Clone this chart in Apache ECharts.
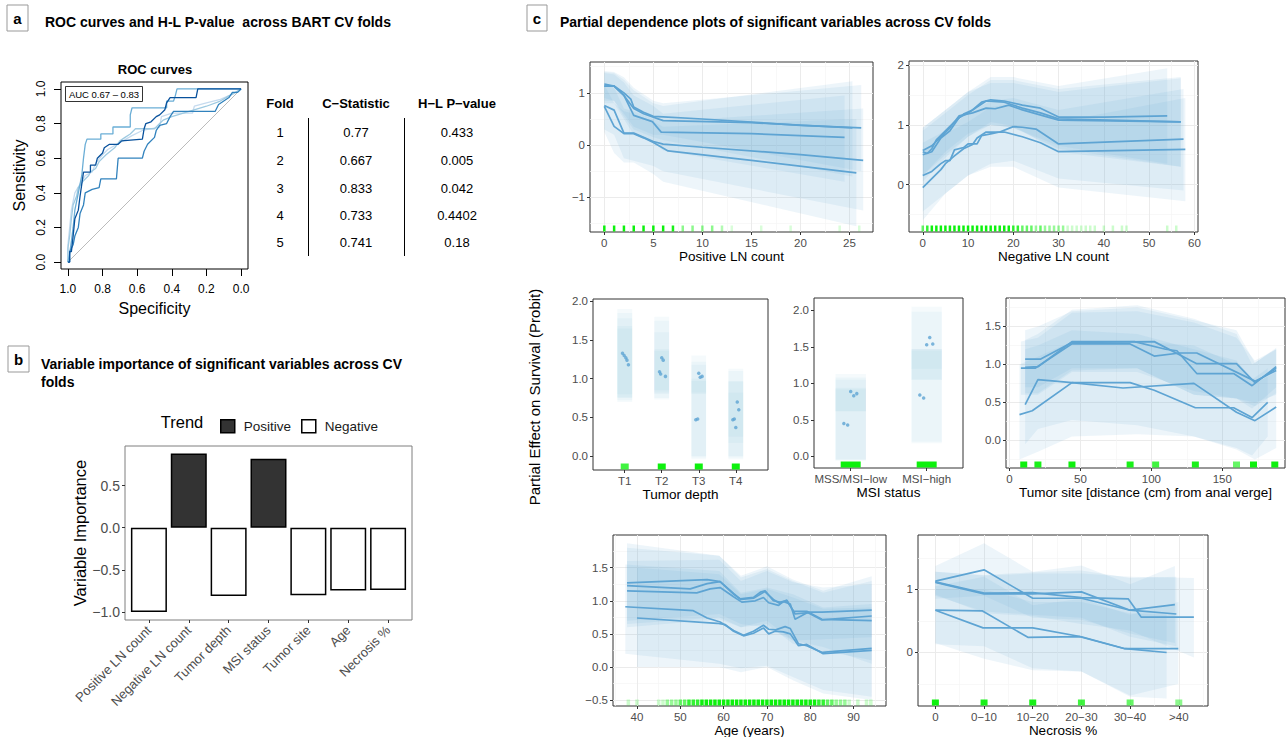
<!DOCTYPE html>
<html>
<head>
<meta charset="utf-8">
<script src="https://cdn.jsdelivr.net/npm/echarts@6/dist/echarts.min.js"></script>
<style>
html, body { margin: 0; background: #fff; }
#main { width: 1287px; height: 737px; }
</style>
</head>
<body>
<div id="main"></div>
<script>
// ---- data ----

// panel a: ROC curves, [specificity, sensitivity]
var roc1 = [[1,0],[0.99,0],[0.99,0.06],[0.98,0.06],[0.97,0.15],[0.96,0.25],[0.94,0.3],[0.93,0.38],[0.92,0.45],[0.91,0.52],[0.87,0.52],[0.87,0.56],[0.84,0.56],[0.83,0.6],[0.8,0.63],[0.79,0.66],[0.76,0.68],[0.71,0.68],[0.69,0.7],[0.57,0.71],[0.56,0.77],[0.55,0.8],[0.52,0.81],[0.49,0.84],[0.47,0.85],[0.44,0.88],[0.43,0.92],[0.41,0.95],[0.26,0.95],[0.25,1],[0,1]];
var roc2 = [[1,0],[0.99,0],[0.99,0.06],[0.97,0.1],[0.96,0.15],[0.94,0.2],[0.93,0.28],[0.91,0.33],[0.9,0.4],[0.86,0.42],[0.82,0.43],[0.81,0.48],[0.72,0.48],[0.71,0.6],[0.57,0.6],[0.56,0.64],[0.54,0.68],[0.5,0.72],[0.49,0.76],[0.47,0.79],[0.43,0.8],[0.41,0.84],[0.39,0.87],[0.15,0.87],[0.13,0.91],[0.07,0.95],[0.05,0.98],[0.02,0.98],[0,1]];
var roc3 = [[1,0],[0.99,0.05],[0.98,0.12],[0.97,0.2],[0.96,0.3],[0.94,0.4],[0.92,0.5],[0.91,0.6],[0.9,0.68],[0.89,0.71],[0.81,0.71],[0.81,0.74],[0.74,0.74],[0.74,0.78],[0.64,0.78],[0.64,0.85],[0.63,0.89],[0.43,0.89],[0.43,0.93],[0.39,0.93],[0.38,0.96],[0.37,1],[0,1]];
var roc4 = [[1,0],[1,0.08],[0.99,0.15],[0.98,0.25],[0.97,0.33],[0.95,0.38],[0.94,0.43],[0.91,0.47],[0.88,0.5],[0.87,0.52],[0.84,0.54],[0.82,0.58],[0.78,0.62],[0.73,0.66],[0.7,0.7],[0.67,0.72],[0.64,0.74],[0.61,0.77],[0.5,0.77],[0.47,0.8],[0.45,0.82],[0.4,0.84],[0.3,0.87],[0.2,0.9],[0.12,0.93],[0.07,0.96],[0.03,0.98],[0,1]];
var roc5 = [[1,0],[1,0.1],[0.99,0.2],[0.98,0.3],[0.97,0.35],[0.96,0.4],[0.93,0.45],[0.9,0.5],[0.86,0.52],[0.84,0.57],[0.8,0.62],[0.77,0.65],[0.7,0.69],[0.63,0.73],[0.57,0.76],[0.47,0.78],[0.46,0.84],[0.4,0.86],[0.28,0.86],[0.27,0.9],[0.2,0.92],[0.12,0.94],[0.05,0.97],[0,1]];
var rocColors = ['#08519c', '#3182bd', '#6baed6', '#9ecae1', '#c6dbef'];
var rocDiagonal = [[1,0],[0,1]];

// panel a: table
var foldIds = ['1', '2', '3', '4', '5'];
var cStats = ['0.77', '0.667', '0.833', '0.733', '0.741'];
var hlPvalues = ['0.433', '0.005', '0.042', '0.4402', '0.18'];

// panel b: variable importance
var varNames = ['Positive LN count', 'Negative LN count', 'Tumor depth', 'MSI status', 'Tumor site', 'Age', 'Necrosis %'];
var varImportance = [-1.0, 0.88, -0.81, 0.82, -0.80, -0.745, -0.74];
var varTrend = ['Negative', 'Positive', 'Negative', 'Positive', 'Negative', 'Negative', 'Negative'];

// panel c: positive LN count
var posLnLines = [
  [[0,1.17],[1,1.13],[2,1.0],[2.7,0.88],[3,0.73],[4,0.63],[5,0.55],[6,0.54],[10,0.5],[20,0.38],[26.2,0.33]],
  [[0,1.13],[1,1.13],[2,0.95],[3,0.7],[4,0.6],[6,0.47],[15,0.43],[25.3,0.33]],
  [[0,1.13],[1,1.13],[2,0.95],[3,0.57],[4.9,0.45],[5.8,0.25],[15,0.22],[24.5,0.15]],
  [[0,0.76],[1,0.67],[2,0.23],[3,0.23],[5,0.07],[6,0.02],[10,-0.04],[20,-0.18],[26.4,-0.29]],
  [[0,0.74],[1,0.36],[2,0.22],[3,0.22],[4,0.14],[5,0.05],[6.5,-0.11],[15,-0.29],[25.7,-0.53]]
];
var posLnBands = [
  {x: [0,1,2,3,5,6,26.2], hi: [1.42,1.4,1.3,1.1,0.85,0.8,1.15], lo: [0.9,0.85,0.6,0.35,0.2,0.2,-0.5]},
  {x: [0,1,2,3,5,6,25.3], hi: [1.4,1.38,1.25,1.05,0.8,0.75,1.22], lo: [0.85,0.85,0.55,0.3,0.15,0.1,-0.6]},
  {x: [0,1,2,3,5,6,24.5], hi: [1.38,1.35,1.2,0.95,0.75,0.6,0.95], lo: [0.8,0.8,0.5,0.2,0.05,-0.1,-0.7]},
  {x: [0,1,2,3,5,6,26.4], hi: [1.2,1.1,0.7,0.65,0.5,0.45,0.7], lo: [0.3,0.2,-0.25,-0.3,-0.4,-0.5,-1.25]},
  {x: [0,1,2,3,5,6,25.7], hi: [1.15,0.8,0.65,0.6,0.45,0.35,0.5], lo: [0.25,-0.15,-0.33,-0.33,-0.55,-0.7,-1.55]}
];
var posLnRug = [[0,30],[1,20],[2,15],[3,12],[4,9],[5,10],[6,7],[7,6],[8,3],[9,3],[10,3],[11,3],[12,2],[13,1],[16,1],[19,1],[24,1],[26,1]];

// panel c: negative LN count
var negLnLines = [
  [[0,0.55],[1,0.52],[2,0.6],[3,0.75],[5,0.9],[7,1.05],[9,1.18],[11,1.25],[13,1.38],[15,1.42],[18,1.4],[22,1.33],[26,1.28],[30,1.13],[40,1.13],[54,1.15]],
  [[0,0.5],[2,0.55],[4,0.78],[6,0.9],[8,1.12],[10,1.2],[12,1.3],[14,1.4],[18,1.38],[22,1.28],[26,1.2],[30,1.1],[57,1.05]],
  [[0,0.57],[2,0.65],[4,0.8],[6,0.95],[8,1.15],[11,1.2],[14,1.28],[16,1.27],[19,1.33],[22,1.25],[30,1.08],[57,1.05]],
  [[0,0.15],[2,0.22],[4,0.35],[5,0.4],[6,0.4],[7,0.58],[9,0.62],[10,0.68],[12,0.68],[13,0.82],[15,0.85],[17,0.88],[20,0.97],[22,0.96],[25,0.93],[30,0.68],[57.6,0.76]],
  [[0,-0.05],[2,0.1],[4,0.25],[5,0.35],[7,0.48],[9,0.6],[11,0.67],[12,0.78],[14,0.88],[16,0.88],[18,0.88],[22,0.8],[26,0.7],[30,0.55],[58,0.59]]
];
var negLnBands = [
  {x: [0,5,10,15,20,30,54], hi: [0.95,1.25,1.55,1.8,1.8,1.65,1.95], lo: [0.15,0.5,0.8,1.0,0.95,0.65,0.35]},
  {x: [0,5,10,15,20,30,57], hi: [0.9,1.2,1.5,1.75,1.75,1.6,1.8], lo: [0.05,0.45,0.8,1.05,0.98,0.55,0.3]},
  {x: [0,5,10,15,20,30,57], hi: [0.95,1.25,1.55,1.7,1.7,1.55,1.78], lo: [0.15,0.55,0.85,1.0,0.95,0.6,0.3]},
  {x: [0,5,10,15,20,30,57.6], hi: [0.7,0.9,1.2,1.4,1.45,1.25,1.6], lo: [-0.45,-0.15,0.15,0.35,0.4,0.1,-0.1]},
  {x: [0,5,10,15,20,30,58], hi: [0.55,0.85,1.05,1.3,1.35,1.05,1.45], lo: [-0.6,-0.15,0.15,0.3,0.3,-0.05,-0.28]}
];
var negLnRug = [[0,3],[1,4],[2,5],[3,6],[4,7],[5,8],[6,8],[7,9],[8,9],[9,9],[10,9],[11,8],[12,8],[13,7],[14,7],[15,6],[16,6],[17,5],[18,5],[19,5],[20,4],[21,4],[22,3],[23,3],[24,3],[25,2],[26,3],[27,2],[28,2],[29,2],[30,2],[31,2],[32,1],[33,1],[34,1],[35,1],[36,1],[37,1],[38,1],[40,1],[42,1],[44,1],[45,1],[54,1],[56,1]];

// panel c: tumor depth (category position, value)
var depthLabels = ['T1', 'T2', 'T3', 'T4'];
var depthPoints = [[0.94,1.33],[0.985,1.30],[1.03,1.27],[1.06,1.24],[1.1,1.18],[1.94,1.09],[1.97,1.06],[2.0,1.27],[2.04,1.24],[2.1,1.03],[2.92,0.47],[2.97,0.48],[3.0,1.07],[3.04,1.02],[3.09,1.03],[3.92,0.47],[3.96,0.48],[4.0,0.37],[4.04,0.70],[4.08,0.60]];
var depthIntervals = [[1,0.70,1.90],[1,0.72,1.85],[1,0.75,1.78],[1,0.76,1.68],[1,0.80,1.65],
  [2,0.73,1.80],[2,0.75,1.75],[2,0.80,1.60],[2,0.85,1.38],[2,0.82,1.36],
  [3,-0.04,1.30],[3,-0.02,1.22],[3,0.80,1.18],[3,0.82,1.00],[3,0.00,0.97],
  [4,-0.04,1.13],[4,-0.02,1.10],[4,0.17,0.97],[4,0.25,0.82],[4,0.00,0.96]];
var depthRug = [[1,5],[2,8],[3,20],[4,8]];

// panel c: MSI status
var msiLabels = ['MSS/MSI\u2212low', 'MSI\u2212high'];
var msiPoints = [[0.91,0.45],[0.96,0.43],[1.0,0.89],[1.04,0.83],[1.08,0.86],[1.91,0.84],[1.96,0.80],[2.0,1.53],[2.04,1.63],[2.08,1.54]];
var msiIntervals = [[1,-0.06,1.13],[1,-0.05,1.08],[1,0.62,0.94],[1,0.62,0.92],[1,-0.04,1.05],
  [2,0.18,2.05],[2,0.2,1.98],[2,1.05,1.47],[2,1.05,1.45],[2,1.2,1.47]];
var msiRug = [[1,40],[2,15]];

// panel c: tumor site
var siteLines = [
  [[11,1.07],[22,1.07],[44,1.29],[102,1.3],[132,1.01],[160,1.01],[173,0.76],[188,0.95]],
  [[8,0.95],[18,0.95],[44,1.27],[85,1.27],[102,1.11],[120,1.15],[132,1.15],[173,0.78],[188,0.92]],
  [[11,0.96],[20,0.97],[44,1.3],[88,1.3],[110,1.2],[118,1.18],[132,0.88],[158,0.88],[171,0.72],[188,0.97]],
  [[11,0.47],[20,0.8],[44,0.76],[85,0.76],[102,0.66],[131,0.43],[158,0.43],[171,0.3],[182,0.5]],
  [[7,0.34],[16,0.39],[44,0.76],[80,0.69],[130,0.75],[160,0.37],[173,0.26],[188,0.44]]
];
var siteBands = [
  {x: [11,20,44,90,130,160,173,188], hi: [1.45,1.5,1.7,1.75,1.58,1.45,1.02,1.22], lo: [0.7,0.7,0.95,0.95,0.6,0.55,0.45,0.62]},
  {x: [8,20,44,90,130,160,173,188], hi: [1.3,1.35,1.68,1.7,1.55,1.35,1.05,1.2], lo: [0.6,0.6,0.9,0.9,0.65,0.55,0.5,0.6]},
  {x: [11,20,44,90,130,160,171,188], hi: [1.32,1.4,1.72,1.78,1.6,1.4,1.0,1.2], lo: [0.62,0.62,0.92,0.95,0.6,0.55,0.42,0.7]},
  {x: [11,20,44,90,130,160,171,182], hi: [1.2,1.25,1.45,1.4,1.2,1.05,0.8,0.95], lo: [-0.05,0.15,0.27,0.2,0.05,-0.1,-0.2,0.05]},
  {x: [7,20,44,90,130,160,173,188], hi: [1.0,1.1,1.3,1.3,1.25,1.0,0.75,0.9], lo: [-0.25,-0.15,0.05,0.08,0.05,-0.12,-0.25,-0.1]}
];
var siteRug = [[10,8],[20,6],[44,10],[85,6],[103,5],[131,6],[160,4],[172,10],[187,8]];

// panel c: age
var ageLines = [
  [[37.7,1.27],[56.2,1.32],[59.2,1.29],[62.3,1.11],[63.8,1.03],[66.9,1.05],[68.5,1.13],[69.6,1.15],[71.5,1.0],[73,0.98],[74.6,1.0],[76.2,0.84],[79.2,0.84],[82.7,0.72],[94.2,0.70]],
  [[37.7,1.23],[52.3,1.18],[56.2,1.26],[59.2,1.29],[62.3,1.1],[64,1.02],[67,1.04],[69.5,1.14],[71.5,1.02],[73,0.96],[74.6,1.01],[76.5,0.8],[79.5,0.82],[82.7,0.71],[94.2,0.77]],
  [[37.7,1.15],[53.8,1.12],[56.9,1.18],[59.2,1.2],[62.3,1.06],[64.2,0.98],[67.3,1.0],[69.2,1.05],[70.4,0.97],[72.7,0.93],[73.8,0.99],[75.4,0.95],[76.5,0.72],[79.6,0.83],[82.7,0.83],[94.2,0.86]],
  [[37.3,0.91],[53,0.85],[56.2,0.74],[59.2,0.68],[62.3,0.55],[64.6,0.48],[66.9,0.54],[69.2,0.63],[70.4,0.57],[72,0.56],[74.2,0.61],[75.4,0.58],[77.3,0.35],[79.2,0.32],[82.7,0.22],[94.2,0.28]],
  [[40,0.74],[58.5,0.66],[60.4,0.64],[62.3,0.54],[64.6,0.47],[66.9,0.51],[69.2,0.59],[70.4,0.5],[71.9,0.54],[73.8,0.53],[75.4,0.5],[77.3,0.32],[79.2,0.34],[83,0.2],[94.2,0.25]]
];
var ageBands = [
  {x: [37.7,59,64,70,76,83,94.2], hi: [1.87,1.68,1.38,1.52,1.32,1.15,1.37], lo: [0.65,0.75,0.6,0.7,0.4,0.3,0.05]},
  {x: [37.7,59,64,70,76,83,94.2], hi: [1.8,1.68,1.35,1.48,1.3,1.12,1.3], lo: [0.6,0.72,0.6,0.65,0.35,0.25,0.1]},
  {x: [37.7,59,64,70,76,83,94.2], hi: [1.6,1.62,1.3,1.45,1.28,1.2,1.25], lo: [0.7,0.8,0.65,0.6,0.4,0.42,0.45]},
  {x: [37.3,59,64,70,76,83,94.2], hi: [1.55,1.45,1.12,1.2,1.1,0.9,0.95], lo: [0.2,0.05,-0.02,0.02,-0.15,-0.35,-0.45]},
  {x: [40,59,64,70,76,83,94.2], hi: [1.5,1.4,1.1,1.18,1.05,0.88,0.9], lo: [0.0,0.0,-0.08,0.0,-0.2,-0.4,-0.5]}
];
var ageRug = [[38,1],[40,1],[45,1],[46,1],[47,2],[48,2],[49,2],[50,3],[51,3],[52,4],[53,4],[54,4],[55,5],[56,5],[57,6],[58,6],[59,7],[60,7],[61,8],[62,8],[63,8],[64,9],[65,9],[66,9],[67,9],[68,10],[69,10],[70,10],[71,9],[72,9],[73,9],[74,8],[75,8],[76,7],[77,7],[78,6],[79,6],[80,5],[81,5],[82,4],[83,4],[84,3],[85,3],[86,2],[87,2],[88,2],[89,1],[91,1],[93,1],[94,1]];

// panel c: necrosis
var necrosisLabels = ['0', '0\u221210', '10\u221220', '20\u221230', '30\u221240', '>40'];
var necrosisLines = [
  [[0,1.13],[1,1.31],[2,0.86],[3,0.86],[4,0.67],[4.92,0.76]],
  [[0,1.11],[1,0.93],[2,0.93],[3,0.96],[4,0.67],[4.95,0.61]],
  [[0,1.12],[1,0.94],[2,0.95],[3,0.87],[3.96,0.85],[4.23,0.56],[5.31,0.56]],
  [[0,0.67],[0.96,0.66],[1.9,0.24],[2.97,0.25],[3.89,0.06],[4.99,0.06]],
  [[0,0.67],[0.98,0.39],[2,0.39],[3,0.25],[3.9,0.06],[4.75,0.0]]
];
var necrosisBands = [
  {x: [0,1,2,3,4,4.92], hi: [1.37,1.73,1.28,1.38,1.08,1.37], lo: [0.85,0.9,0.55,0.52,0.3,0.15]},
  {x: [0,1,2,3,4,4.95], hi: [1.28,1.23,1.27,1.3,1.18,1.2], lo: [0.9,0.65,0.6,0.55,0.25,0.1]},
  {x: [0,1,2,3,4,5.31], hi: [1.28,1.22,1.25,1.25,1.2,1.18], lo: [0.92,0.62,0.58,0.45,0.35,-0.08]},
  {x: [0,1,2,3,4,4.99], hi: [1.05,1.2,0.75,0.85,0.6,0.8], lo: [0.13,0.1,-0.25,-0.3,-0.68,-0.5]},
  {x: [0,1,2,3,4,4.75], hi: [1.0,1.0,0.8,0.8,0.62,0.6], lo: [0.15,-0.1,-0.28,-0.3,-0.7,-0.73]}
];
var necrosisRug = [[0,12],[1,6],[2,6],[3,5],[4,4],[5,3]];

// ---- styling ----
var FONT = '"Liberation Sans", Arial, Helvetica, sans-serif';
var PD_LINE = '#5ea4d3';
var PD_BAND = 'rgba(107,174,214,0.12)';
var PD_RECT = 'rgba(107,174,214,0.065)';

function minus(s) { return String(s).replace('-', '\u2212'); }

var grids = [], xAxes = [], yAxes = [], series = [];

function addGrid(box, border) {
  grids.push({left: box[0], top: box[1], width: box[2], height: box[3], show: true,
    borderColor: border, borderWidth: 1, backgroundColor: 'transparent',
    containLabel: false, outerBoundsMode: 'none'});
  return grids.length - 1;
}

function mainAxis(g, range, ticks, fmt, o) {
  return {
    type: 'value', gridIndex: g, min: range[0], max: range[1], inverse: !!o.inverse,
    name: o.name || '', nameLocation: 'middle', nameGap: o.nameGap || 15,
    nameTextStyle: {fontFamily: FONT, fontSize: o.nameSize || 13.5, color: '#000'},
    axisLine: {show: false, onZero: false},
    axisTick: {show: true, customValues: ticks, length: o.tickLen || 3, lineStyle: {color: o.tickColor || '#333', width: 1}},
    axisLabel: {customValues: ticks, formatter: fmt, fontFamily: FONT, fontSize: o.labelSize || 11.5,
      color: o.labelColor || '#4d4d4d', margin: o.margin || 5, rotate: o.rotate || 0},
    splitLine: {show: !!o.grid, lineStyle: {color: '#ebebeb', width: 1}}
  };
}

function minorAxis(g, range, ticks) {
  return {
    type: 'value', gridIndex: g, min: range[0], max: range[1],
    axisLine: {show: false, onZero: false}, axisTick: {show: false, customValues: ticks},
    axisLabel: {show: false, customValues: ticks},
    splitLine: {show: true, lineStyle: {color: '#f5f5f5', width: 0.7}}
  };
}

function bandSeries(xi, yi, bands) {
  return {
    type: 'custom', xAxisIndex: xi, yAxisIndex: yi, silent: true, z: 1,
    data: bands.map(function (b) { return [b.x[0], b.lo[0]]; }),
    encode: {x: 0, y: 1},
    renderItem: function (params, api) {
      var b = bands[params.dataIndex];
      var top = b.x.map(function (x, k) { return api.coord([x, b.hi[k]]); });
      var bot = b.x.map(function (x, k) { return api.coord([x, b.lo[k]]); }).reverse();
      return {type: 'polygon', shape: {points: top.concat(bot)}, style: {fill: PD_BAND}};
    }
  };
}

function rectSeries(xi, yi, intervals, half) {
  return {
    type: 'custom', xAxisIndex: xi, yAxisIndex: yi, silent: true, z: 1,
    data: intervals,
    encode: {x: 0, y: 1},
    renderItem: function (params, api) {
      var c = api.value(0);
      var p1 = api.coord([c - half, api.value(2)]);
      var p2 = api.coord([c + half, api.value(1)]);
      return {type: 'rect', shape: {x: p1[0], y: p1[1], width: p2[0] - p1[0], height: p2[1] - p1[1]}, style: {fill: PD_RECT}};
    }
  };
}

function rugSeries(xi, yi, rug, yMin, w, step) {
  return {
    type: 'custom', xAxisIndex: xi, yAxisIndex: yi, silent: true, z: 4,
    data: rug.map(function (r) { return [r[0], yMin, r[1]]; }),
    encode: {x: 0, y: 1},
    renderItem: function (params, api) {
      var p = api.coord([api.value(0), api.value(1)]);
      var op = Math.min(0.95, step * api.value(2));
      return {type: 'rect', shape: {x: p[0] - w / 2, y: p[1] - 6.5, width: w, height: 6},
        style: {fill: 'rgba(0,240,0,' + op + ')'}};
    }
  };
}

function lineSeries(xi, yi, data, color, width) {
  return {type: 'line', xAxisIndex: xi, yAxisIndex: yi, data: data, symbol: 'none', silent: true, z: 3,
    lineStyle: {color: color, width: width}};
}

function pdpPanel(p) {
  var g = addGrid(p.box, '#333');
  var xi = xAxes.length, yi = yAxes.length;
  xAxes.push(mainAxis(g, p.xr, p.xTicks, p.xFmt, {name: p.name, grid: p.grid}));
  yAxes.push(mainAxis(g, p.yr, p.yTicks, p.yFmt, {grid: p.grid}));
  if (p.grid) {
    xAxes.push(minorAxis(g, p.xr, p.xMinor));
    yAxes.push(minorAxis(g, p.yr, p.yMinor));
  }
  if (p.bands) series.push(bandSeries(xi, yi, p.bands));
  if (p.intervals) series.push(rectSeries(xi, yi, p.intervals, 0.2));
  (p.lines || []).forEach(function (l) { series.push(lineSeries(xi, yi, l, PD_LINE, 1.7)); });
  if (p.points) {
    series.push({type: 'scatter', xAxisIndex: xi, yAxisIndex: yi, data: p.points, symbolSize: 3.5,
      silent: true, z: 3, itemStyle: {color: PD_LINE}});
  }
  series.push(rugSeries(xi, yi, p.rug, p.yr[0], p.rugW, p.rugStep));
}

// ---- panel a: ROC ----
(function () {
  var g = addGrid([61, 82, 187, 187], '#000');
  var ticks = [0, 0.2, 0.4, 0.6, 0.8, 1];
  var f = function (v) { return v.toFixed(1); };
  var xi = xAxes.length, yi = yAxes.length;
  xAxes.push(mainAxis(g, [-0.04, 1.04], ticks, f, {inverse: true, name: 'Specificity', nameSize: 16, nameGap: 31,
    tickLen: 7, tickColor: '#000', labelColor: '#000', labelSize: 12, margin: 14}));
  yAxes.push(mainAxis(g, [-0.04, 1.04], ticks, f, {name: 'Sensitivity', nameSize: 16, nameGap: 34,
    tickLen: 7, tickColor: '#000', labelColor: '#000', labelSize: 12, margin: 14, rotate: 90}));
  series.push(lineSeries(xi, yi, rocDiagonal, '#aaa', 0.8));
  [roc5, roc4, roc3, roc2, roc1].forEach(function (c, k) {
    series.push(lineSeries(xi, yi, c, rocColors[4 - k], 1.3));
  });
})();

// ---- panel b: variable importance ----
(function () {
  var g = addGrid([125, 446, 287, 174], '#7f7f7f');
  var xi = xAxes.length, yi = yAxes.length;
  xAxes.push(mainAxis(g, [0.4, 7.6], [1, 2, 3, 4, 5, 6, 7], function (v) { return varNames[v - 1]; },
    {rotate: 45, labelSize: 13, margin: 8}));
  yAxes.push(mainAxis(g, [-1.095, 0.97], [-1, -0.5, 0, 0.5], function (v) { return minus(v.toFixed(1)); },
    {name: 'Variable Importance', nameSize: 16.5, nameGap: 36, labelSize: 14, margin: 5}));
  ['Positive', 'Negative'].forEach(function (t) {
    var data = [];
    varImportance.forEach(function (v, i) { if (varTrend[i] === t) data.push([i + 1, v]); });
    series.push({type: 'bar', name: t, xAxisIndex: xi, yAxisIndex: yi, data: data, barWidth: 36, barGap: '-100%',
      silent: true, itemStyle: {color: t === 'Positive' ? '#333333' : '#ffffff', borderColor: '#000', borderWidth: 1.5}});
  });
})();

// ---- panel c ----
var fmtInt = function (v) { return minus(v); };
var fmt1 = function (v) { return minus(v.toFixed(1)); };

pdpPanel({box: [590, 62, 283, 170], xr: [-1.46, 27.4], yr: [-1.66, 1.59], grid: true,
  xTicks: [0, 5, 10, 15, 20, 25], xMinor: [2.5, 7.5, 12.5, 17.5, 22.5], yTicks: [-1, 0, 1], yMinor: [-1.5, -0.5, 0.5, 1.5],
  xFmt: fmtInt, yFmt: fmtInt, name: 'Positive LN count', lines: posLnLines, bands: posLnBands, rug: posLnRug, rugW: 2.5, rugStep: 0.15});

pdpPanel({box: [909, 61, 289, 171], xr: [-3.04, 60.8], yr: [-0.795, 2.07], grid: true,
  xTicks: [0, 10, 20, 30, 40, 50, 60], xMinor: [5, 15, 25, 35, 45, 55], yTicks: [0, 1, 2], yMinor: [-0.5, 0.5, 1.5],
  xFmt: fmtInt, yFmt: fmtInt, name: 'Negative LN count', lines: negLnLines, bands: negLnBands, rug: negLnRug, rugW: 2.5, rugStep: 0.2});

pdpPanel({box: [593, 299, 175, 171], xr: [0.143, 4.87], yr: [-0.18, 2.03], grid: false,
  xTicks: [1, 2, 3, 4], yTicks: [0, 0.5, 1, 1.5, 2],
  xFmt: function (v) { return depthLabels[v - 1]; }, yFmt: fmt1, name: 'Tumor depth',
  intervals: depthIntervals, points: depthPoints, rug: depthRug, rugW: 8, rugStep: 0.15});

pdpPanel({box: [814, 298, 149, 170], xr: [0.517, 2.478], yr: [-0.159, 2.17], grid: false,
  xTicks: [1, 2], yTicks: [0, 0.5, 1, 1.5, 2],
  xFmt: function (v) { return msiLabels[v - 1]; }, yFmt: fmt1, name: 'MSI status',
  intervals: msiIntervals, points: msiPoints, rug: msiRug, rugW: 20, rugStep: 0.08});

pdpPanel({box: [1006, 298, 279, 170], xr: [-2.5, 194.2], yr: [-0.363, 1.874], grid: true,
  xTicks: [0, 50, 100, 150], xMinor: [25, 75, 125, 175], yTicks: [0, 0.5, 1, 1.5], yMinor: [-0.25, 0.25, 0.75, 1.25, 1.75],
  xFmt: fmtInt, yFmt: fmt1, name: 'Tumor site [distance (cm) from anal verge]',
  lines: siteLines, bands: siteBands, rug: siteRug, rugW: 7, rugStep: 0.15});

pdpPanel({box: [613, 535, 273, 171], xr: [34.46, 97.5], yr: [-0.59, 1.994], grid: true,
  xTicks: [40, 50, 60, 70, 80, 90], xMinor: [35, 45, 55, 65, 75, 85, 95], yTicks: [-0.5, 0, 0.5, 1, 1.5], yMinor: [-0.25, 0.25, 0.75, 1.25, 1.75],
  xFmt: fmtInt, yFmt: fmt1, name: 'Age (years)', lines: ageLines, bands: ageBands, rug: ageRug, rugW: 3.5, rugStep: 0.2});

pdpPanel({box: [918, 535, 290, 171], xr: [-0.357, 5.6], yr: [-0.848, 1.862], grid: true,
  xTicks: [0, 1, 2, 3, 4, 5], xMinor: [0.5, 1.5, 2.5, 3.5, 4.5, 5.5], yTicks: [0, 1], yMinor: [-0.5, 0.5, 1.5],
  xFmt: function (v) { return necrosisLabels[v]; }, yFmt: fmtInt, name: 'Necrosis %',
  lines: necrosisLines, bands: necrosisBands, rug: necrosisRug, rugW: 7, rugStep: 0.15});

// ---- texts ----
function txt(x, y, s, size, o) {
  o = o || {};
  return {type: 'text', x: x, y: y, rotation: o.rotation || 0, silent: true,
    style: {text: s, fontFamily: FONT, fontSize: size, fontWeight: o.bold ? 'bold' : 'normal',
      fill: o.color || '#000', align: o.align || 'center', verticalAlign: 'middle'}};
}
function labelBox(x, y, w, h, s) {
  return [
    {type: 'rect', shape: {x: x, y: y, width: w, height: h}, style: {fill: '#fff', stroke: '#999', lineWidth: 1}},
    txt(x + w / 2, y + h / 2, s, 15, {bold: true})
  ];
}

var graphics = [];
graphics = graphics.concat(labelBox(7, 5, 21, 26, 'a'), labelBox(8, 346, 21, 26, 'b'), labelBox(527, 5, 20, 26, 'c'));
graphics.push(txt(45, 22, 'ROC curves and H-L P-value  across BART CV folds', 14, {bold: true, align: 'left'}));
graphics.push(txt(41, 364, 'Variable importance of significant variables across CV', 14, {bold: true, align: 'left'}));
graphics.push(txt(41, 382, 'folds', 14, {bold: true, align: 'left'}));
graphics.push(txt(560, 22, 'Partial dependence plots of significant variables across CV folds', 14, {bold: true, align: 'left'}));
graphics.push(txt(155, 69, 'ROC curves', 13, {bold: true}));
graphics.push({type: 'rect', shape: {x: 65.5, y: 86.5, width: 77, height: 15}, style: {fill: '#fff', stroke: '#000', lineWidth: 0.8}, z: 10});
graphics.push(Object.assign(txt(104, 94, 'AUC 0.67 \u2013 0.83', 9.5), {z: 11}));

// table
var colX = [280, 356, 457];
graphics.push(txt(colX[0], 103, 'Fold', 13, {bold: true}));
graphics.push(txt(colX[1], 103, 'C\u2212Statistic', 13, {bold: true}));
graphics.push(txt(colX[2], 103, 'H\u2212L P\u2212value', 13, {bold: true}));
var rowY = [132, 160, 188, 215.5, 242.5];
foldIds.forEach(function (f, i) {
  graphics.push(txt(colX[0], rowY[i], f, 13));
  graphics.push(txt(colX[1], rowY[i], cStats[i], 13));
  graphics.push(txt(colX[2], rowY[i], hlPvalues[i], 13));
});
[308.5, 404.5].forEach(function (x) {
  graphics.push({type: 'line', shape: {x1: x, y1: 118, x2: x, y2: 256}, style: {stroke: '#000', lineWidth: 1}});
});

graphics.push(txt(182, 422, 'Trend', 16.5));
graphics.push(txt(534, 397, 'Partial Effect on Survival (Probit)', 15, {rotation: Math.PI / 2}));

var myChart = echarts.init(document.getElementById('main'), null, {renderer: 'svg'});
var option = {
  animation: false,
  backgroundColor: '#fff',
  textStyle: {fontFamily: FONT},
  grid: grids,
  xAxis: xAxes,
  yAxis: yAxes,
  legend: {
    data: ['Positive', 'Negative'], left: 215, top: 414, itemWidth: 14, itemHeight: 13, itemGap: 10,
    selectedMode: false, icon: 'rect',
    itemStyle: {borderColor: '#000', borderWidth: 1.5},
    textStyle: {fontFamily: FONT, fontSize: 13.5, color: '#1a1a1a', padding: [0, 0, 0, 4]}
  },
  graphic: graphics,
  series: series
};
myChart.setOption(option);
</script>
</body>
</html>
